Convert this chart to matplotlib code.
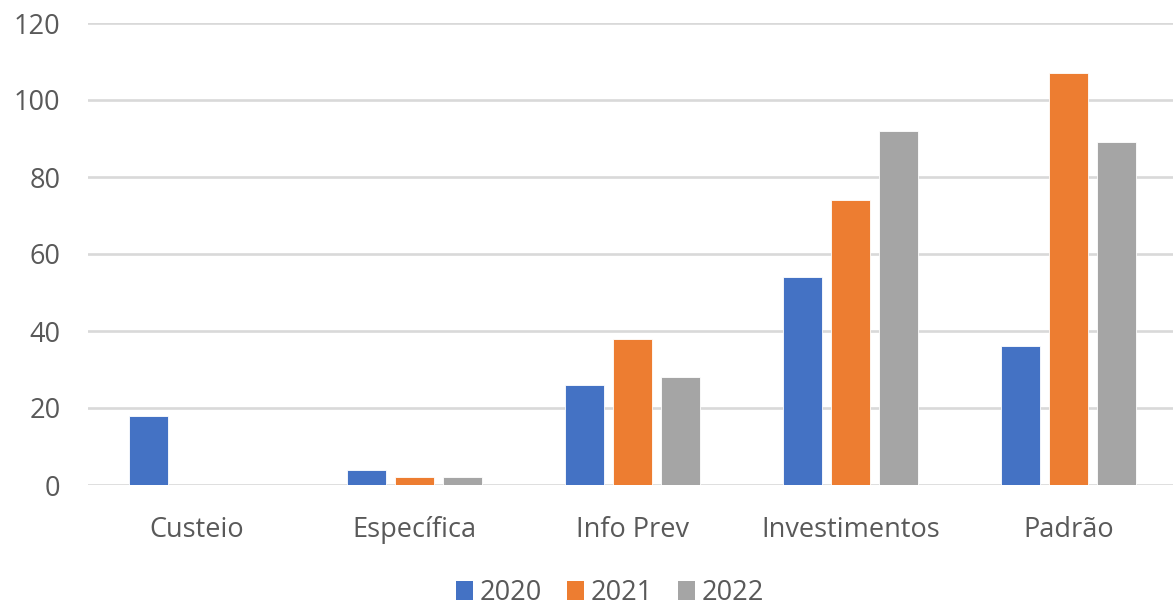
import numpy as np
import matplotlib
matplotlib.use('agg')
import matplotlib.pyplot as plt
from matplotlib.patches import Patch

categories = ['Custeio', 'Específica', 'Info Prev', 'Investimentos', 'Padrão']
years = ['2020', '2021', '2022']
v2020 = [18, 4, 26, 54, 36]
v2021 = [0, 2, 38, 74, 107]
v2022 = [0, 2, 28, 92, 89]

colors = ['#4472C4', '#ED7D31', '#A5A5A5']
text_color = '#595959'

plt.rcParams['font.family'] = ['Open Sans', 'DejaVu Sans']

W, H = 1173, 606
fig = plt.figure(figsize=(W / 100, H / 100), dpi=100)
ax = fig.add_axes([87.5 / W, (H - 485) / H, 1090 / W, 462 / H])

x = np.arange(len(categories))
bw = 0.178
off = 0.22
for i, vals in enumerate([v2020, v2021, v2022]):
    ax.bar(x + (i - 1) * off, vals, width=bw, color=colors[i],
           edgecolor='white', linewidth=0.6, zorder=3)

ax.set_xlim(-0.5, len(categories) - 0.5)
ax.set_ylim(0, 120)
ax.set_yticks(range(0, 121, 20))
ax.set_xticks(x)
ax.set_xticklabels(categories)
ax.grid(axis='y', color='#D9D9D9', linewidth=1.9, zorder=0)
for s in ax.spines.values():
    s.set_visible(False)
ax.tick_params(axis='both', length=0, labelsize=19.5, labelcolor=text_color)
ax.tick_params(axis='y', pad=19.5)
ax.tick_params(axis='x', pad=22)

handles = [Patch(facecolor=c, edgecolor='none') for c in colors]
fig.legend(handles, years, loc='center', bbox_to_anchor=(610 / W, 1 - 593 / H),
           ncol=3, frameon=False, fontsize=19.5, labelcolor=text_color,
           handlelength=0.65, handleheight=0.65, handletextpad=0.25,
           columnspacing=0.9, borderpad=0.1)

fig.savefig('out.png', dpi=100)
plt.close()
